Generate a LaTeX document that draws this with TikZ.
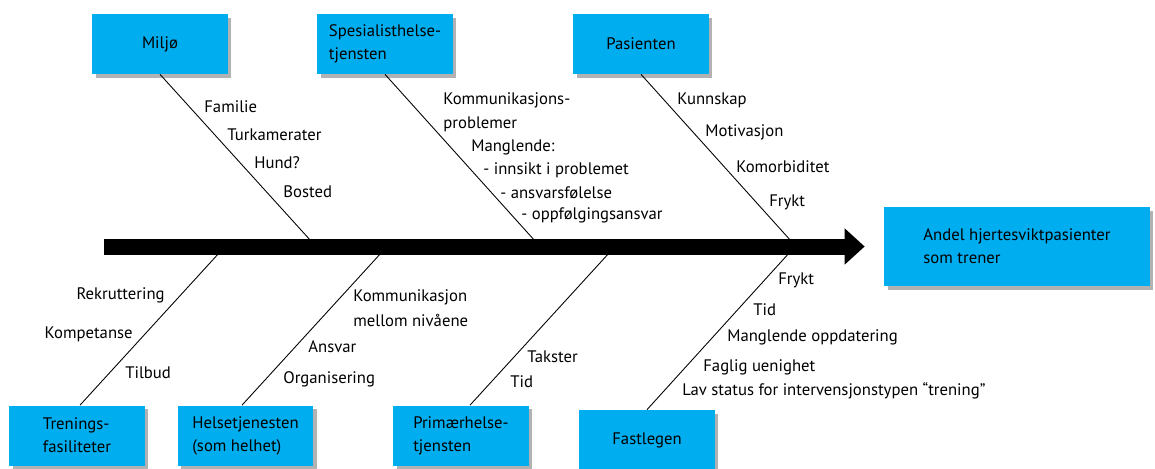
\documentclass[tikz,border=0pt]{standalone}
\usepackage{fontspec}
\setmainfont{PT Sans}
\usepackage{tikz}
\usetikzlibrary{arrows.meta, shadows, calc}
\definecolor{causeblue}{RGB}{0,173,238}

\begin{document}
\begin{tikzpicture}[
    x=0.02cm, y=-0.02cm,
    font=\fontsize{9.5}{11}\selectfont,
    cause/.style={rectangle, fill=causeblue, minimum width=2.72cm, minimum height=1.2cm, align=left, font=\fontsize{9.5}{13}\selectfont, drop shadow={shadow xshift=0.07cm, shadow yshift=-0.07cm, fill=black!60}},
    bone/.style={line width=0.5pt, black},
    spine/.style={-{Triangle[length=0.4cm, width=0.7cm]}, line width=0.32cm},
    lbl/.style={anchor=west, inner sep=0pt},
    lblr/.style={anchor=east, inner sep=0pt},
]
\useasboundingbox (0,0) rectangle (1155,468);

\node[cause] (miljo) at (160,44) {Miljø};
\node[cause] (spes) at (385,44) {Spesialisthelse-\\tjensten};
\node[cause] (pas) at (641,44) {Pasienten};
\node[cause] (tren) at (77,435.5) {Trenings-\\fasiliteter};
\node[cause] (helse) at (245.5,435.5) {Helsetjenesten\\(som helhet)};
\node[cause] (prim) at (461,435.5) {Primærhelse-\\tjensten};
\node[cause] (fast) at (647,440) {Fastlegen};
\node[cause, minimum width=5.32cm, minimum height=1.58cm] (effect) at (1017,246.5) {Andel hjertesviktpasienter\\som trener};

\coordinate (tail) at (104,246.5);
\coordinate (jm) at (316,246.5);
\coordinate (js) at (540,246.5);
\coordinate (jp) at (796,246.5);
\coordinate (jt) at (225,246.5);
\coordinate (jh) at (387,246.5);
\coordinate (jr) at (615,246.5);
\coordinate (jf) at (795,246.5);

\draw[bone] (miljo.south) -- (jm);
\draw[bone] (spes.south) -- (js);
\draw[bone] (pas.south) -- (jp);
\draw[bone] ([xshift=0.06cm]tren.north) -- (jt);
\draw[bone] ([xshift=-0.07cm]helse.north) -- (jh);
\draw[bone] ([xshift=0.18cm]prim.north) -- (jr);
\draw[bone] (fast.north) -- (jf);
\draw[spine] (tail) -- ([xshift=-0.38cm]effect.west);

\node[lbl] (fam) at (204,107) {Familie};
\node[lbl] (turk) at (227,135) {Turkamerater};
\node[lbl] (hund) at (254,163) {Hund?};
\node[lbl] (bost) at (283,192) {Bosted};

\node[lbl] (komm) at (443,100) {Kommunikasjons-};
\node[lbl] (probl) at (443,124) {problemer};
\node[lbl] (mangl) at (471,147) {Manglende:};
\node[lbl] (innsikt) at (483,170) {- innsikt i problemet};
\node[lbl] (ansvf) at (500,193) {- ansvarsfølelse};
\node[lbl] (oppf) at (521,215) {- oppfølgingsansvar};

\node[lbl] (kunn) at (677,100) {Kunnskap};
\node[lbl] (motiv) at (705,132) {Motivasjon};
\node[lbl] (komorb) at (736,167) {Komorbiditet};
\node[lbl] (frykt) at (769,202) {Frykt};

\node[lblr] (rekr) at (165,295) {Rekruttering};
\node[lblr] (komp) at (133,334) {Kompetanse};
\node[lbl] (tilb) at (125,373) {Tilbud};

\node[lbl] (kommn) at (353,297) {Kommunikasjon};
\node[lbl] (mellom) at (353,320) {mellom nivåene};
\node[lbl] (ansv) at (308,347) {Ansvar};
\node[lbl] (org) at (283,379) {Organisering};

\node[lbl] (takst) at (527,357) {Takster};
\node[lbl] (tidp) at (510,382) {Tid};

\node[lbl] (fryktf) at (778,280) {Frykt};
\node[lbl] (tidf) at (753,310) {Tid};
\node[lbl] (oppd) at (727,337) {Manglende oppdatering};
\node[lbl] (fagl) at (703,367) {Faglig uenighet};
\node[lbl] (lav) at (682,391) {Lav status for intervensjonstypen “trening”};
\end{tikzpicture}
\end{document}
